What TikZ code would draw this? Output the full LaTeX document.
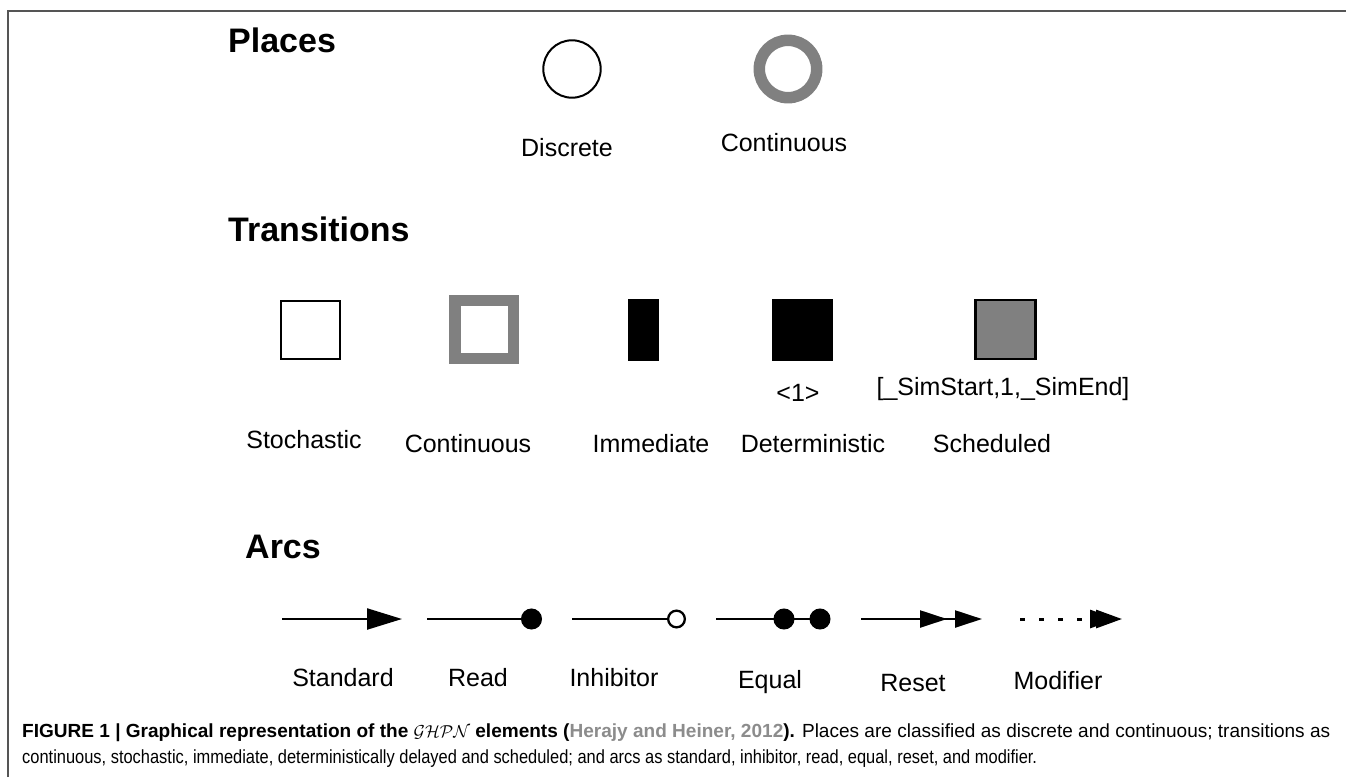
\documentclass[tikz,border=0pt]{standalone}
\usepackage{fontspec}
\usepackage{graphicx}
\setmainfont{Liberation Sans}
\usetikzlibrary{arrows.meta}
\definecolor{elemgray}{RGB}{128,128,128}
\definecolor{framegray}{RGB}{85,85,85}
\definecolor{citegray}{RGB}{140,140,140}

\begin{document}
\begin{tikzpicture}[x=1pt,y=-1pt,
  headtext/.style={anchor=base west,inner sep=0pt,font=\fontsize{34}{40}\selectfont\bfseries},
  elemtext/.style={anchor=base,inner sep=0pt,font=\fontsize{25}{30}\selectfont},
  captext/.style={anchor=base west,inner sep=0pt},
  placenode/.style={circle,inner sep=0pt,minimum size=57.4pt},
  transnode/.style={rectangle,inner sep=0pt},
  arcline/.style={line width=2.3pt},
  modline/.style={line width=3pt,dash pattern=on 5pt off 14pt}
]
\useasboundingbox (0,0) rectangle (1346,777);

% frame around the figure
\coordinate (fbl) at (8,777);
\coordinate (ftl) at (8,11);
\coordinate (ftr) at (1346,11);
\draw[framegray,line width=2pt] (fbl) -- (ftl) -- (ftr);

% ---------------- Places ----------------
\node[headtext] (hplaces) at (228,52) {Places};
\node[placenode,draw=black,line width=2pt] (pdisc) at (572,69) {};
\node[placenode,draw=elemgray,line width=11.5pt] (pcont) at (788,69) {};
\node[elemtext] (lpdisc) at (567,156) {Discrete};
\node[elemtext] (lpcont) at (784,151) {Continuous};

% ---------------- Transitions ----------------
\node[headtext] (htrans) at (228,241) {Transitions};
\node[transnode,draw=black,line width=2.2pt,minimum width=59pt,minimum height=58pt] (tstoch) at (310.5,330) {};
\node[transnode,draw=elemgray,line width=11.5pt,minimum width=58.5pt,minimum height=58pt] (tcont) at (484,329.5) {};
\node[transnode,fill=black,minimum width=31pt,minimum height=62pt] (timm) at (643.5,330) {};
\node[transnode,fill=black,minimum width=61pt,minimum height=62pt] (tdet) at (802.5,330) {};
\node[transnode,fill=elemgray,draw=black,line width=2.2pt,minimum width=60pt,minimum height=59pt] (tsched) at (1005.5,329.5) {};

\node[elemtext] (ldelay) at (798,401) {<1>};
\node[elemtext] (lsched) at (1003,395) {[\_SimStart,1,\_SimEnd]};

\node[elemtext] (ltstoch) at (304,448) {Stochastic};
\node[elemtext] (ltcont) at (468,452) {Continuous};
\node[elemtext] (ltimm) at (651,452) {Immediate};
\node[elemtext] (ltdet) at (813,452) {Deterministic};
\node[elemtext] (ltsched) at (992,452) {Scheduled};

% ---------------- Arcs ----------------
\node[headtext] (harcs) at (245,558) {Arcs};

\coordinate (sa) at (282,619);  \coordinate (sb) at (402,619);
\coordinate (ra) at (427,619);  \coordinate (rb) at (542,619);
\coordinate (ia) at (572,619);  \coordinate (ib) at (686,619);
\coordinate (ea) at (716,619);  \coordinate (em) at (794.5,619); \coordinate (eb) at (830.5,619);
\coordinate (za) at (861,619);  \coordinate (zm) at (947,619);   \coordinate (zb) at (982,619);
\coordinate (ma) at (1020,619); \coordinate (mm) at (1116,619);  \coordinate (mb) at (1122,619);

% standard
\draw[arcline,-{Triangle[length=35pt,width=21pt]}] (sa) -- (sb);
% read
\draw[arcline,-{Circle[length=21pt]}] (ra) -- (rb);
% inhibitor
\draw[arcline,-{Circle[open,length=19pt,fill=white]}] (ia) -- (ib);
% equal
\draw[arcline,-{Circle[length=21pt]}] (ea) -- (eb);
\draw[arcline,-{Circle[length=21pt]}] (ea) -- (em);
% reset
\draw[arcline,-{Triangle[length=27pt,width=17pt]}] (za) -- (zb);
\draw[arcline,-{Triangle[length=27pt,width=17pt]}] (za) -- (zm);
% modifier
\draw[modline,-{Triangle[length=26pt,width=18pt]}] (ma) -- (mb);
\draw[modline,-{Triangle[length=26pt,width=18pt]}] (ma) -- (mm);

\node[elemtext] (lstd) at (343,686) {Standard};
\node[elemtext] (lread) at (478,686) {Read};
\node[elemtext] (linh) at (614,686) {Inhibitor};
\node[elemtext] (lequal) at (770,688) {Equal};
\node[elemtext] (lreset) at (913,691) {Reset};
\node[elemtext] (lmod) at (1058,689) {Modifier};

% ---------------- caption ----------------
\node[captext] (cap1) at (22,737) {\resizebox{1308pt}{\height}{\fontsize{19}{22}\selectfont\textbf{FIGURE 1 | Graphical representation of the $\mathcal{GHPN}$ elements (\textcolor{citegray}{Herajy and Heiner, 2012}).} Places are classified as discrete and continuous; transitions as}};
\node[captext] (cap2) at (22,763) {\resizebox{1015pt}{\height}{\fontsize{19}{22}\selectfont continuous, stochastic, immediate, deterministically delayed and scheduled; and arcs as standard, inhibitor, read, equal, reset, and modifier.}};
\end{tikzpicture}
\end{document}
